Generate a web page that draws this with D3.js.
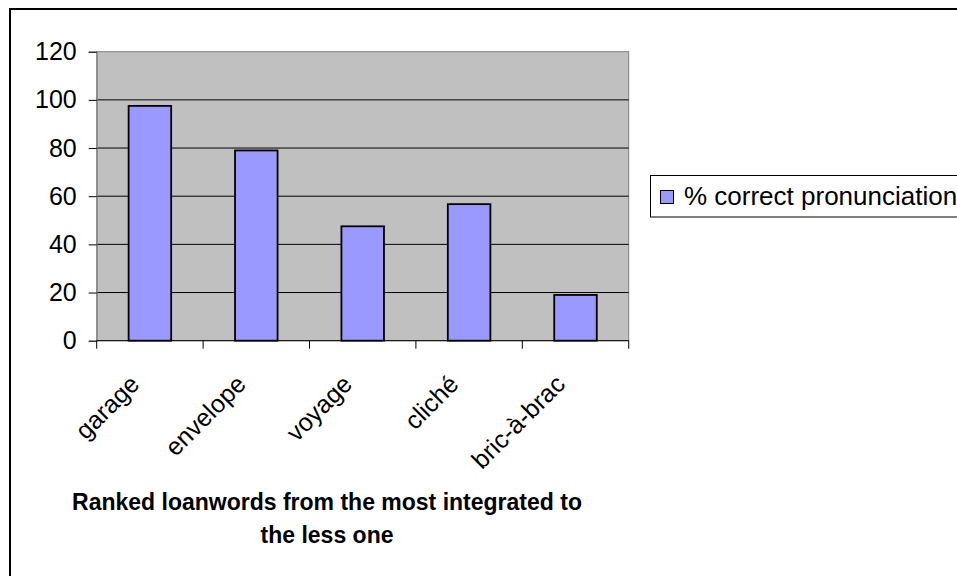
<!DOCTYPE html>
<html>
<head>
<meta charset="utf-8">
<script src="https://cdn.jsdelivr.net/npm/d3@7"></script>
<style>
  html, body { margin: 0; padding: 0; background: #fff; overflow: hidden; }
  svg { display: block; }
  text { font-family: Arial, "Liberation Sans", sans-serif; fill: #000; }
</style>
</head>
<body>
<svg id="chart" width="957" height="576"></svg>
<script>
// Loanwords, ranked from the most integrated to the least
const categories = ["garage", "envelope", "voyage", "cliché", "bric-à-brac"];
// Share of speakers pronouncing each word correctly (%)
const correctPct = [97.5, 79, 47.5, 56.7, 19];
const yTicks = [0, 20, 40, 60, 80, 100, 120];
const seriesName = "% correct pronunciation";
const axisTitle = ["Ranked loanwords from the most integrated to", "the less one"];

const svg = d3.select("#chart");
const plot = { left: 96.7, right: 628.7, top: 51.7, bottom: 340.7 };

// Outer chart frame (runs off the right and bottom of the page)
svg.append("rect")
  .attr("x", 10).attr("y", 9)
  .attr("width", 1000).attr("height", 700)
  .attr("fill", "#fff").attr("stroke", "#000").attr("stroke-width", 2);

const x = d3.scaleBand()
  .domain(categories)
  .range([plot.left, plot.right])
  .paddingInner(0.6)
  .paddingOuter(0.3);

const y = d3.scaleLinear()
  .domain([0, 120])
  .range([plot.bottom, plot.top]);

// Plot area background
svg.append("rect")
  .attr("x", plot.left).attr("y", plot.top)
  .attr("width", plot.right - plot.left).attr("height", plot.bottom - plot.top)
  .attr("fill", "#c0c0c0").attr("stroke", "#808080").attr("stroke-width", 1);

// Horizontal gridlines
svg.append("g")
  .selectAll("line")
  .data(yTicks.filter(v => v > 0 && v < 120))
  .join("line")
  .attr("x1", plot.left).attr("x2", plot.right)
  .attr("y1", d => y(d)).attr("y2", d => y(d))
  .attr("stroke", "#000").attr("stroke-width", 1);

// Bars
svg.append("g")
  .selectAll("rect")
  .data(categories.map((c, i) => ({ c, v: correctPct[i] })))
  .join("rect")
  .attr("x", d => x(d.c))
  .attr("y", d => y(d.v))
  .attr("width", x.bandwidth())
  .attr("height", d => y(0) - y(d.v))
  .attr("fill", "#9999ff")
  .attr("stroke", "#000")
  .attr("stroke-width", 1.8);

// Y axis
const yAxis = svg.append("g")
  .attr("transform", `translate(${plot.left},0)`)
  .call(d3.axisLeft(y).tickValues(yTicks).tickSize(8).tickPadding(12));
yAxis.select(".domain").attr("stroke", "#808080");
yAxis.selectAll(".tick line").attr("stroke", "#000");
yAxis.selectAll(".tick text")
  .attr("font-size", 25)
  .attr("font-family", "Arial, 'Liberation Sans', sans-serif");

// X axis: line, ticks between categories, rotated labels
const boundaries = categories.map(c => x(c) + x.bandwidth() / 2 - x.step() / 2)
  .concat([x(categories[categories.length - 1]) + x.bandwidth() / 2 + x.step() / 2]);
const xAxis = svg.append("g");
xAxis.append("line")
  .attr("x1", plot.left).attr("x2", plot.right)
  .attr("y1", plot.bottom).attr("y2", plot.bottom)
  .attr("stroke", "#000");
xAxis.selectAll("line.tick")
  .data(boundaries)
  .join("line")
  .attr("class", "tick")
  .attr("x1", d => d).attr("x2", d => d)
  .attr("y1", plot.bottom).attr("y2", plot.bottom + 8)
  .attr("stroke", "#000");
xAxis.selectAll("text")
  .data(categories)
  .join("text")
  .attr("text-anchor", "end")
  .attr("font-size", 25)
  .attr("transform", d => `translate(${x(d) + x.bandwidth() / 2 - 9},${plot.bottom + 45}) rotate(-45)`)
  .text(d => d);

// Axis title
svg.append("g")
  .selectAll("text")
  .data(axisTitle)
  .join("text")
  .attr("x", 327)
  .attr("y", (d, i) => 510 + i * 33)
  .attr("text-anchor", "middle")
  .attr("font-size", 23)
  .attr("font-weight", "bold")
  .text(d => d);

// Legend
const legend = svg.append("g");
legend.append("rect")
  .attr("x", 650.5).attr("y", 175.5)
  .attr("width", 400).attr("height", 41.5)
  .attr("fill", "#fff").attr("stroke", "#000").attr("stroke-width", 1);
legend.append("rect")
  .attr("x", 660.5).attr("y", 190.5)
  .attr("width", 13).attr("height", 13)
  .attr("fill", "#9999ff").attr("stroke", "#000").attr("stroke-width", 1);
legend.append("text")
  .attr("x", 684)
  .attr("y", 205)
  .attr("font-size", 26)
  .text(seriesName);
</script>
</body>
</html>
